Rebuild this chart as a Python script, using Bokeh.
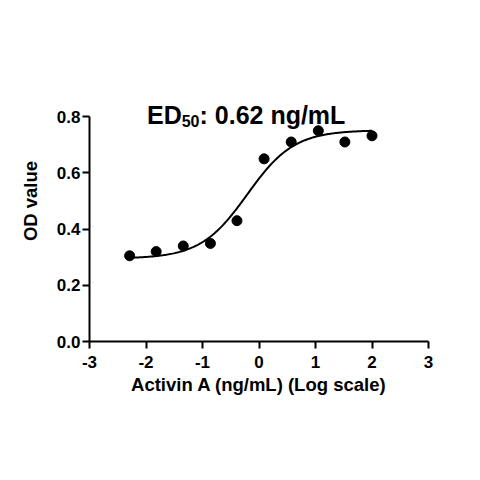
import numpy as np
from bokeh.plotting import figure
from bokeh.models import Range1d, FixedTicker, NumeralTickFormatter, Label
from bokeh.embed import file_html
from bokeh.resources import INLINE

# Data (log10 of Activin A concentration, ng/mL) and OD values
log_conc = [-2.29, -1.82, -1.34, -0.86, -0.39, 0.09, 0.57, 1.05, 1.52, 2.0]
od_value = [0.305, 0.320, 0.340, 0.349, 0.430, 0.650, 0.710, 0.750, 0.710, 0.732]

# 4-parameter logistic fit parameters
fit_bottom = 0.295
fit_top = 0.752
fit_log_ed50 = np.log10(0.62)
fit_hill = 1.05

x_ticks = [-3, -2, -1, 0, 1, 2, 3]
y_ticks = [0.0, 0.2, 0.4, 0.6, 0.8]

FONT = "Liberation Sans"

p = figure(width=472, height=472, output_backend="svg", toolbar_location=None,
           x_range=Range1d(-3, 3), y_range=Range1d(0, 1.0),
           min_border_left=89, min_border_right=44, min_border_top=60, min_border_bottom=131)
p.outline_line_color = None
p.xgrid.visible = False
p.ygrid.visible = False
p.background_fill_color = "white"
p.border_fill_color = "white"

# fitted curve
xc = np.linspace(min(log_conc), max(log_conc), 200)
yc = fit_bottom + (fit_top - fit_bottom) / (1 + 10 ** ((fit_log_ed50 - xc) * fit_hill))
p.line(xc, yc, line_color="black", line_width=2)

# data points
p.scatter(log_conc, od_value, size=10, color="black")

for ax in (p.xaxis[0], p.yaxis[0]):
    ax.axis_line_width = 2
    ax.axis_line_color = "black"
    ax.major_tick_line_width = 2
    ax.major_tick_line_color = "black"
    ax.major_tick_out = 7
    ax.major_tick_in = 0
    ax.minor_tick_line_color = None
    ax.major_label_text_font = FONT
    ax.major_label_text_font_style = "bold"
    ax.major_label_text_font_size = "17px"
    ax.major_label_text_color = "black"
    ax.axis_label_text_font = FONT
    ax.axis_label_text_font_style = "bold"
    ax.axis_label_text_font_size = "18.5px"
    ax.axis_label_text_color = "black"

p.xaxis.ticker = FixedTicker(ticks=x_ticks)
p.yaxis.ticker = FixedTicker(ticks=y_ticks)
p.xaxis.major_label_overrides = {t: str(t) for t in x_ticks}
p.yaxis.formatter = NumeralTickFormatter(format="0.0")
p.yaxis.bounds = (0, 0.8)
p.xaxis.bounds = (-3, 3)
p.xaxis.major_label_standoff = 7
p.yaxis.major_label_standoff = 2
p.xaxis.axis_label = "Activin A (ng/mL) (Log scale)"
p.yaxis.axis_label = "OD value"
p.xaxis.axis_label_standoff = 3
p.yaxis.axis_label_standoff = 13

# Title with subscript, drawn as separate labels
common = dict(text_font=FONT, text_font_style="bold", text_color="black",
              text_baseline="alphabetic", text_align="left")
p.add_layout(Label(x=-1.982, y=0.805, text="ED", text_font_size="25px", **common))
p.add_layout(Label(x=-1.368, y=0.785, text="50", text_font_size="16px", **common))
p.add_layout(Label(x=-1.053, y=0.805, text=": 0.62 ng/mL", text_font_size="25px", **common))

open("out.html", "w").write(file_html(p, INLINE))
